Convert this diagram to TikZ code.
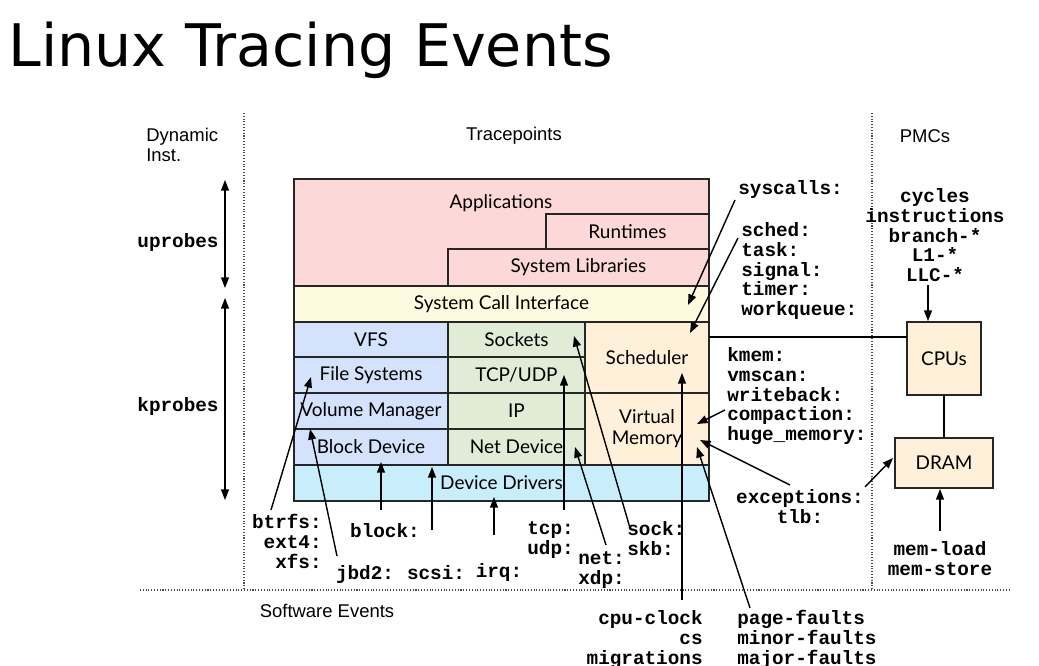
\documentclass[tikz,border=0pt]{standalone}
\usepackage{fontspec}
\setmainfont{Liberation Sans}
\newfontfamily\boxfont{Lato}
\newfontfamily\ttb{Liberation Mono}
\newfontfamily\titlefont{DejaVu Sans}
\newcommand{\evfont}{\ttb\bfseries\fontsize{11}{11.3}\selectfont\lineskiplimit=-20pt\relax}
\usetikzlibrary{arrows.meta,calc,positioning}
\definecolor{appred}{HTML}{FDD8D8}
\definecolor{sciyel}{HTML}{FEFAE0}
\definecolor{fsblue}{HTML}{D4E3FB}
\definecolor{netgrn}{HTML}{E0ECD5}
\definecolor{kerorg}{HTML}{FFF1D9}
\definecolor{drvcyan}{HTML}{C8EEFB}
\tikzset{
  blk/.style={draw=black!85, line width=0.9pt},
  lbl/.style={font=\boxfont\fontsize{10.8}{12}\selectfont, inner sep=0pt},
  ev/.style={font=\evfont, inner sep=0pt},
  hdr/.style={font=\fontsize{10.5}{12}\selectfont, inner sep=0pt},
  sep/.style={densely dotted, line width=0.6pt, black!70},
  arr/.style={line width=0.8pt, -{Triangle[length=6pt,width=4.5pt]}},
}
% rectangle with a named label node at its centre
\newcommand{\layer}[7]{%
  \draw[blk, fill=#6] (#2) rectangle (#3);
  \path (#2) -- node[lbl, align=center] (#1) {#7} (#3);}
\begin{document}
\begin{tikzpicture}[x=0.02cm, y=-0.02cm]
  \useasboundingbox (0,0) rectangle (1039,666);
  % title
  \node[anchor=base west, inner sep=0pt, font=\titlefont\fontsize{33.4}{36}\selectfont] (title) at (8,67) {Linux Tracing Events};

  % separators
  \draw[sep] (244,113) -- (244,590);
  \draw[sep] (872,113) -- (872,590);
  \draw[sep] (140,590) -- (1010,590);
  \node[hdr, align=left, anchor=north west] (dyn) at (146,128) {Dynamic\\[-1pt]Inst.};
  \node[hdr] (tp) at (514,136) {Tracepoints};
  \node[hdr] (pmc) at (925,136) {PMCs};
  \node[hdr] (swe) at (327,611) {Software Events};

  % stack
  \layer{apps}{294,179}{709,286}{}{}{appred}{}
  \node[lbl] (applbl) at (501,203) {Applications};
  \layer{rt}{546,214}{709,249}{}{}{appred}{Runtimes}
  \layer{slib}{448,249}{709,286}{}{}{appred}{System Libraries}
  \layer{sci}{294,286}{709,322}{}{}{sciyel}{System Call Interface}
  \layer{vfs}{294,322}{448,357}{}{}{fsblue}{VFS}
  \layer{fs}{294,357}{448,393}{}{}{fsblue}{File Systems}
  \layer{vm}{294,393}{448,429}{}{}{fsblue}{Volume Manager}
  \layer{bd}{294,429}{448,465}{}{}{fsblue}{Block Device}
  \layer{sock}{448,322}{585,357}{}{}{netgrn}{Sockets}
  \layer{tcp}{448,357}{585,393}{}{}{netgrn}{TCP/UDP}
  \layer{ip}{448,393}{585,429}{}{}{netgrn}{IP}
  \layer{nd}{448,429}{585,465}{}{}{netgrn}{Net Device}
  \layer{sch}{585,322}{709,393}{}{}{kerorg}{Scheduler}
  \layer{vmem}{585,393}{709,465}{}{}{kerorg}{Virtual\\Memory}
  \layer{drv}{294,465}{709,501}{}{}{drvcyan}{Device Drivers}

  % PMC hardware
  \layer{cpu}{907,322}{981,395}{}{}{kerorg}{CPUs}
  \layer{dram}{895,438}{993,488}{}{}{kerorg}{DRAM}
  \draw[line width=0.8pt] (709,337) -- (907,337);
  \draw[line width=0.8pt] (cpu.center |- 0,395) -- (cpu.center |- 0,438);

  % probes
  \node[ev] (up) at (178,243) {uprobes};
  \node[ev] (kp) at (178,407) {kprobes};
  \draw[line width=0.8pt, {Triangle[length=6pt,width=4.5pt]}-{Triangle[length=6pt,width=4.5pt]}] (225,180) -- (225,288);
  \draw[line width=0.8pt, {Triangle[length=6pt,width=4.5pt]}-{Triangle[length=6pt,width=4.5pt]}] (225,298) -- (225,500);

  % right-hand tracepoints
  \node[ev, anchor=west] (sys) at (738,190) {syscalls:};
  \node[ev, anchor=north west, align=left] (schd) at (741,222) {sched:\\task:\\signal:\\timer:\\workqueue:};
  \node[ev, anchor=north west, align=left] (km) at (727,347) {kmem:\\vmscan:\\writeback:\\compaction:\\huge\_memory:};
  \node[ev, align=center] (exc) at (800,507) {exceptions:\\tlb:};
  \node[ev, align=center, anchor=north] (pmcev) at (935,188) {cycles\\instructions\\branch-*\\L1-*\\LLC-*};
  \node[ev, align=center] (mem) at (940,559) {mem-load\\mem-store};

  % bottom tracepoints
  \node[ev, anchor=north east, align=right] (btr) at (322,514) {btrfs:\\ext4:\\xfs:};
  \node[ev] (jbd) at (365,574) {jbd2:};
  \node[ev] (blkev) at (385,531) {block:};
  \node[ev] (scsi) at (436,573) {scsi:};
  \node[ev] (irq) at (499,573) {irq:};
  \node[ev, anchor=north west, align=left] (tcpev) at (527,521) {tcp:\\udp:};
  \node[ev, anchor=north west, align=left] (net) at (578,551) {net:\\xdp:};
  \node[ev, anchor=north west, align=left] (skb) at (627,521) {sock:\\skb:};
  \node[ev, anchor=north east, align=right] (cpuclk) at (703,610) {cpu-clock\\cs\\migrations};
  \node[ev, anchor=north west, align=left] (pf) at (737,610) {page-faults\\minor-faults\\major-faults};

  % arrows
  \draw[arr] (735,200) -- (688,305);
  \draw[arr] (738,238) -- (690,333);
  \draw[arr] (725,410) -- (697,424);
  \draw[arr] (790,485) -- (700,440);
  \draw[arr] (750,608) -- (697,447);
  \draw[arr] (682,600) -- (682,373);
  \draw[arr] (630,528) -- (574,336);
  \draw[arr] (606,545) -- (575,447);
  \draw[arr] (564,510) -- (564,375);
  \draw[arr] (494,535) -- (494,497);
  \draw[arr] (432,530) -- (432,467);
  \draw[arr] (381,510) -- (381,462);
  \draw[arr] (337,556) -- (310,429);
  \draw[arr] (271,510) -- (311,377);
  \draw[arr] (928,285) -- (928,321);
  \draw[arr] (865,487) -- (893,458);
  \draw[arr] (940,531) -- (940,489);
\end{tikzpicture}
\end{document}
